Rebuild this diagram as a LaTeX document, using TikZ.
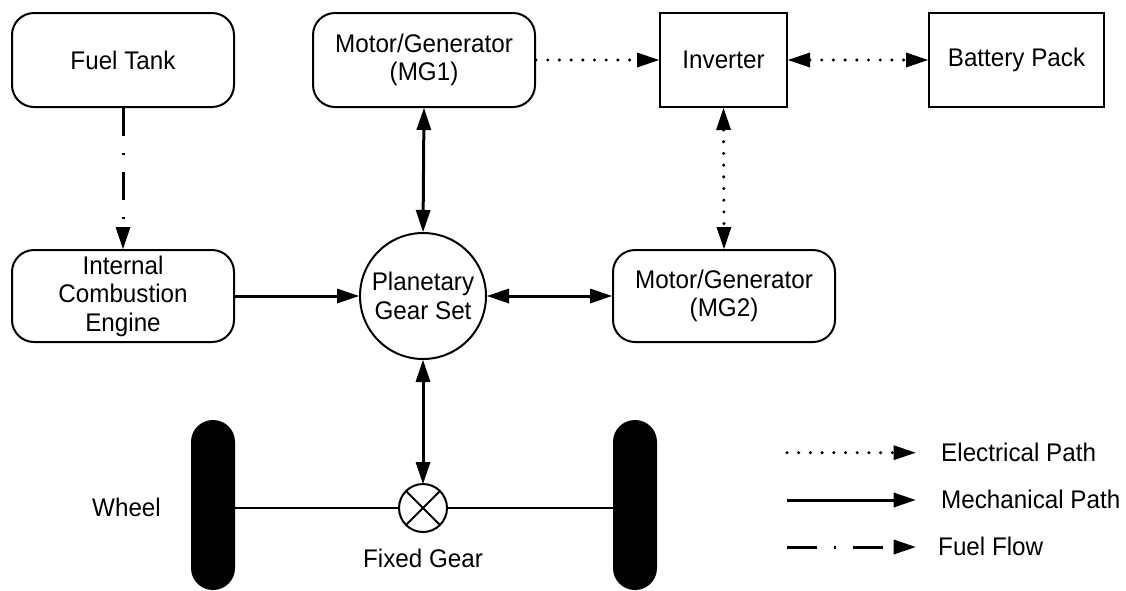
\documentclass[tikz,border=0pt]{standalone}
\usepackage{fontspec}
\setmainfont{Liberation Sans}[FakeStretch=0.95]
\usetikzlibrary{arrows.meta}
\begin{document}
\begin{tikzpicture}[x=1pt, y=-1pt,
  font=\fontsize{25.5pt}{28.5pt}\selectfont,
  >={Triangle[length=22pt,width=15pt,line width=0pt]},
  rbox/.style={draw, line width=2pt, rounded corners=22pt, inner sep=0pt,
    align=center, minimum width=222pt, minimum height=94pt},
  sbox/.style={draw, line width=2pt, inner sep=0pt, align=center,
    minimum height=94pt},
  wheel/.style={fill=black, draw=none, rounded corners=21.9pt, inner sep=0pt,
    minimum width=44pt, minimum height=170pt},
  mech/.style={line width=3pt},
  elec/.style={line width=3.4pt, line cap=round, dash pattern=on 0pt off 11.7pt},
  fuel/.style={line width=3pt, dash pattern=on 28pt off 17pt on 2pt off 17pt},
  axle/.style={line width=2pt}]
\useasboundingbox (0,0) rectangle (1126,590);
\clip (0,0) rectangle (1126,590);

% components
\node[rbox] (tank) at (123,60) {Fuel Tank};
\node[rbox] (mg1) at (424,60) {Motor/Generator\\(MG1)};
\node[sbox, minimum width=127pt] (inv) at (723.5,60) {Inverter};
\node[sbox, minimum width=175pt] (bat) at (1016.5,60) {Battery Pack};
\node[rbox, minimum height=92pt] (ice) at (123,296) {Internal\\Combustion\\Engine};
\node[circle, draw, line width=2pt, minimum size=126pt, inner sep=0pt,
  align=center] (pgs) at (423,296) {Planetary\\Gear Set};
\node[rbox, minimum height=92pt] (mg2) at (724,296) {Motor/Generator\\(MG2)};

% drive axle with wheels and fixed gear
\node[wheel] (lw) at (213,505) {};
\node[wheel] (rw) at (635,505) {};
\node[circle, draw, line width=2pt, minimum size=48pt, inner sep=0pt,
  outer sep=0pt] (fg) at (423,508) {};
\draw[axle] (fg.45) -- (fg.225) (fg.135) -- (fg.315);
\draw[axle] (lw.east |- fg.west) -- (fg.west);
\draw[axle] (fg.east) -- (rw.west |- fg.east);
\node[anchor=base] (wlab) at (126.5,516.5) {Wheel};
\node[anchor=base] (fglab) at (423,567) {Fixed Gear};

% fuel path
\draw[fuel, ->] (tank.south) -- (ice.north);

% mechanical paths
\draw[mech, <->] (mg1.south) -- (pgs.north);
\draw[mech, ->] (ice.east) -- (pgs.west);
\draw[mech, <->] (pgs.east) -- (mg2.west);
\draw[mech, <->] (pgs.south) -- (fg.north);

% electrical paths
\draw[elec, ->] (mg1.east) -- (inv.west);
\draw[elec, <->] (inv.east) -- (bat.west);
\draw[elec, <->] (inv.south) -- (mg2.north);

% legend
\coordinate (e1) at (787,452.7);
\coordinate (e2) at (915.6,452.7);
\coordinate (m1) at (787,500);
\coordinate (m2) at (915.6,500);
\coordinate (f1) at (787,547);
\coordinate (f2) at (915.6,547);
\draw[elec, ->] (e1) -- (e2);
\draw[mech, ->] (m1) -- (m2);
\draw[line width=3pt, dash pattern=on 30pt off 17pt on 2pt off 17pt, ->] (f1) -- (f2);
\node[anchor=base west, inner sep=0pt] (elab) at (941,461.3) {Electrical Path};
\node[anchor=base west, inner sep=0pt] (mlab) at (941,508.6) {Mechanical Path};
\node[anchor=base west, inner sep=0pt] (flab) at (938,555.6) {Fuel Flow};
\end{tikzpicture}
\end{document}
